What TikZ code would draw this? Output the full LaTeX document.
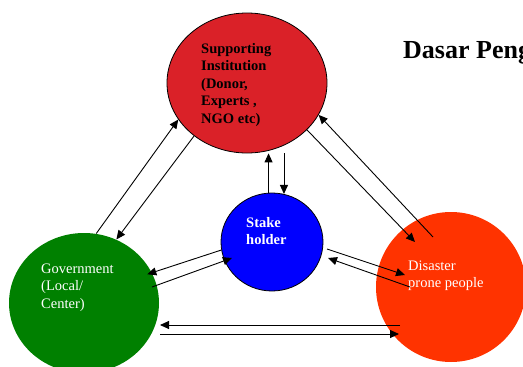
\documentclass[tikz,border=0pt]{standalone}
\usepackage{fontspec}
\setmainfont{Liberation Serif}
\usepackage{tikz}
\usetikzlibrary{shapes.geometric}
\usetikzlibrary{arrows.meta}

\definecolor{supred}{RGB}{218,33,40}
\definecolor{govgreen}{RGB}{0,128,0}
\definecolor{stakeblue}{RGB}{0,0,255}
\definecolor{disorange}{RGB}{255,51,0}

\begin{document}
\begin{tikzpicture}[x=1pt, y=-1pt,
    ball/.style={ellipse, inner sep=0pt, line width=0.8pt},
    words/.style={anchor=base west, align=left, inner sep=0pt, font=\fontsize{14.5}{17.5}\selectfont},
    arr/.style={-{Triangle[length=9pt,width=8pt]}, line width=0.9pt}]
        \useasboundingbox (0,0) rectangle (523,367);
        \node[ball, fill=supred, draw, minimum width=160pt, minimum height=140pt] (sup) at (247,83) {};
        \node[ball, fill=govgreen, minimum width=150pt, minimum height=140pt] (gov) at (84,303) {};
        \node[ball, fill=stakeblue, draw, minimum width=102pt, minimum height=98pt] (stake) at (272,242) {};
        \node[ball, fill=disorange, minimum size=150pt] (dis) at (451,287) {};
        \node[words, font=\fontsize{14.5}{17.5}\selectfont\bfseries] (suptext) at (201,123)
            {Supporting\\Institution\\(Donor,\\Experts ,\\NGO etc)};
        \node[words, text=white] (govtext) at (41,308) {Government\\(Local/\\Center)};
        \node[words, text=white, font=\fontsize{14.5}{17.5}\selectfont\bfseries] (staketext) at (246,244.5) {Stake\\holder};
        \node[words, text=white] (distext) at (408,287.5) {Disaster\\prone people};
        \node[anchor=base west, inner sep=0pt, font=\fontsize{26}{30}\selectfont\bfseries] (title) at (403,58) {Dasar Peng};
        \draw[arr] (gov.80) -- (sup.208);
        \draw[arr] (sup.225) -- (gov.63);
        \draw[arr] (stake.94) -- (stake.94 |- sup.south);
        \draw[arr] (sup.south -| stake.76) -- (stake.76);
        \draw[arr] ([shift={(-18,-50)}]dis.center) -- (sup.336);
        \draw[arr] (sup.322) -- ([shift={(-36,-45)}]dis.center);
        \draw[arr, shorten >=-5pt] (stake.189) -- (gov.24);
        \draw[arr] ([shift={(68,-16)}]gov.center) -- ([shift={(-40,16)}]stake.center);
        \draw[arr] ([shift={(55,7)}]stake.center) -- ([shift={(-46,-12)}]dis.center);
        \draw[arr] ([shift={(-41,0)}]dis.center) -- ([shift={(56,16)}]stake.center);
        \draw[arr] ([shift={(-51,38)}]dis.center) -- ([shift={(76,22)}]gov.center);
        \draw[arr] ([shift={(76,31)}]gov.center) -- ([shift={(-52,47)}]dis.center);
    \end{tikzpicture}
\end{document}
